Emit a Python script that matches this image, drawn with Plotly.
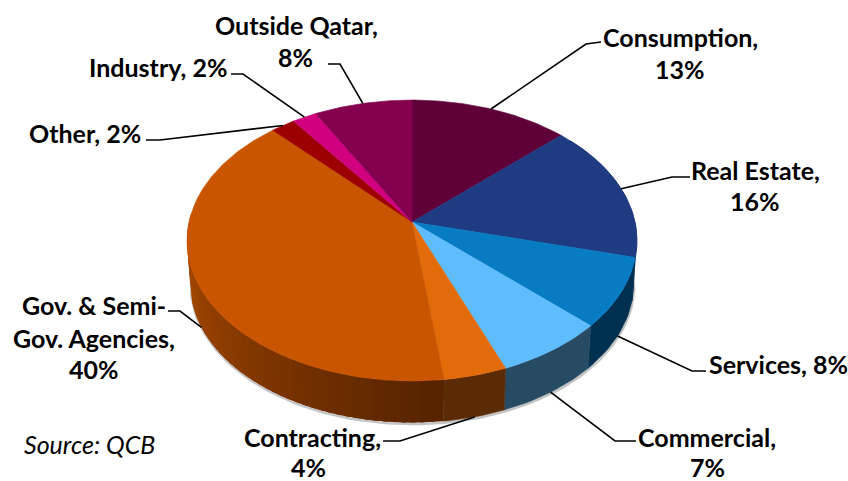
import math
import plotly.graph_objects as go

# Portfolio shares, clockwise from twelve o'clock
categories = ["Consumption", "Real Estate", "Services", "Commercial", "Contracting",
              "Gov. & Semi-Gov. Agencies", "Other", "Industry", "Outside Qatar"]
shares = [13, 16, 8, 7, 4, 40, 2, 2, 8]
top_colors = ["#5f0039", "#1f3b82", "#077cc3", "#5fbcfd", "#e36c0a",
              "#ca5500", "#9c0000", "#d0007f", "#84004f"]
wall_colors = ["#3f0026", "#14275a", "#003050", "#264b63", "#5b2b05",
               None, "#660000", "#8a0055", "#5a0036"]
GOV = 5
gov_wall_light = (170, 74, 0)
gov_wall_dark = (88, 36, 0)

# Perspective projection of the disc
CX, CY, RX, RY, PERSP, DEPTH = 412, 222, 223, 138, 0.1317, 44


def project(pct, lowered=False):
    a = math.radians(pct * 3.6)
    u, v = math.sin(a), -math.cos(a)
    d = 1 - PERSP * v
    s = 0.985 if lowered else 1.0
    return (CX + s * RX * u / d, CY + s * RY * v / d + (DEPTH if lowered else 0))


def frange(a, b, step):
    n = max(1, int(round((b - a) / step)))
    return [a + (b - a) * i / n for i in range(n + 1)]


def polygon(points, color, edge=0.6):
    xs = [p[0] for p in points] + [points[0][0]]
    ys = [p[1] for p in points] + [points[0][1]]
    return go.Scatter(x=xs, y=ys, mode="lines", fill="toself", fillcolor=color,
                      line=dict(color=color, width=edge), hoverinfo="skip", showlegend=False)


fig = go.Figure()

edges = [sum(shares[:i]) for i in range(len(shares) + 1)]

# Soft shadow under the rim
rim = [project(p, True) for p in frange(14, 88, 0.5)]
fig.add_trace(go.Scatter(x=[p[0] + 0.5 for p in rim], y=[p[1] + 1.5 for p in rim], mode="lines",
                         line=dict(color="#c4c4c4", width=2.5), hoverinfo="skip", showlegend=False))

# Side wall; the gradient strips overlap so no seams show, and the disc covers the hidden part
for i, (start, end) in enumerate(zip(edges[:-1], edges[1:])):
    lo, hi = max(start, 14), min(end, 88)
    if lo >= hi:
        continue
    if i == GOV:
        stop = min(hi, 76)
        steps = frange(lo, stop, 0.6)
        for a in reversed(steps[:-1]):
            t = min(1.0, max(0.0, (a - lo) / (72 - lo)))
            rgb = [round(d + (l - d) * t) for d, l in zip(gov_wall_dark, gov_wall_light)]
            arc = frange(a, stop if a + 1.5 > stop else a + 1.5, 0.3)
            pts = [project(p) for p in arc] + [project(p, True) for p in reversed(arc)]
            fig.add_trace(polygon(pts, "rgb(%d,%d,%d)" % tuple(rgb), edge=0))
    else:
        arc = frange(lo, hi, 0.5)
        pts = [project(p) for p in arc] + [project(p, True) for p in reversed(arc)]
        fig.add_trace(polygon(pts, wall_colors[i]))

# Top surface
for start, end, color in zip(edges[:-1], edges[1:], top_colors):
    pts = [(CX, CY)] + [project(p) for p in frange(start, end, 0.25)]
    fig.add_trace(polygon(pts, color))

# Leader lines: label end, elbow, and whether the tip lands on the lower rim
leaders = [
    ((601, 42), (586, 44), False),
    ((690, 177), (672, 177), False),
    ((706, 371), (692, 371), True),
    ((636, 441), (615, 441), True),
    ((383, 441), (400, 441), True),
    ((168, 311), (180, 311), True),
    ((146, 140), (160, 140), False),
    ((231, 74), (243, 74), False),
    ((328, 64), (340, 64), False),
]
for i, (label_end, elbow, on_rim) in enumerate(leaders):
    mid = (edges[i] + edges[i + 1]) / 2
    tip = project(mid, on_rim)
    fig.add_trace(go.Scatter(x=[label_end[0], elbow[0], tip[0]], y=[label_end[1], elbow[1], tip[1]],
                             mode="lines", line=dict(color="#000000", width=1.6),
                             hoverinfo="skip", showlegend=False))

# Text lines, one annotation per line for exact spacing
label_lines = [
    ("Outside Qatar,", 296, 25), ("8%", 295, 57),
    ("Consumption,", 680, 37), ("13%", 680, 69),
    ("Industry, 2%", 158, 67),
    ("Other, 2%", 85, 133),
    ("Real Estate,", 755, 170), ("16%", 755, 201),
    ("Gov. & Semi-", 94, 305), ("Gov. Agencies,", 94, 338), ("40%", 94, 369),
    ("Services, 8%", 778, 364),
    ("Commercial,", 707, 437), ("7%", 707, 467),
    ("Contracting,", 312, 437), ("4%", 308, 467),
]
annotations = [dict(x=x, y=y, text="<b>%s</b>" % t, showarrow=False, xanchor="center", yanchor="middle",
                    font=dict(family="Lato", size=25, color="#000000"))
               for t, x, y in label_lines]
annotations.append(dict(x=89, y=444, text="<i>Source: QCB</i>", showarrow=False, xanchor="center",
                        yanchor="middle", font=dict(family="Lato", size=25, color="#000000")))

fig.update_layout(
    width=848, height=481, margin=dict(l=0, r=0, t=0, b=0),
    paper_bgcolor="#ffffff", plot_bgcolor="#ffffff", showlegend=False,
    xaxis=dict(range=[0, 848], visible=False, fixedrange=True),
    yaxis=dict(range=[481, 0], visible=False, fixedrange=True),
    annotations=annotations,
)
fig.write_html("out.html", config=dict(displayModeBar=False))
